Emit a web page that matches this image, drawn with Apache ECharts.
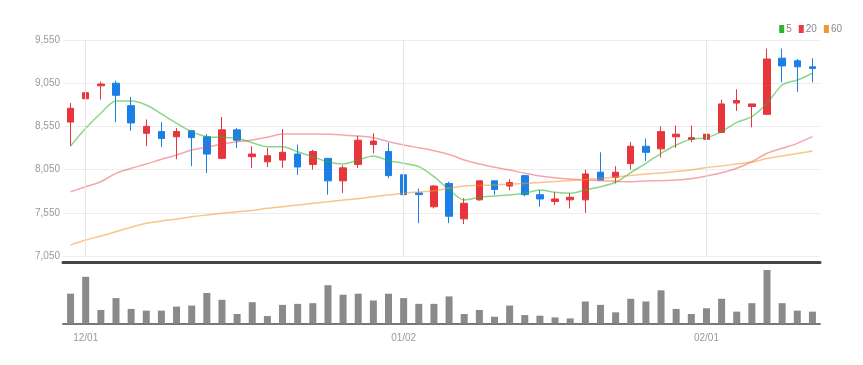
<!DOCTYPE html>
<html>
<head>
<meta charset="utf-8">
<style>
  html, body { margin: 0; padding: 0; background: #fff; }
  #chart { width: 863px; height: 365px; }
</style>
<script src="https://cdn.jsdelivr.net/npm/echarts@6/dist/echarts.min.js"></script>
</head>
<body>
<div id="chart"></div>
<script>
// 거래일 (2022-11-30 ~ 2023-02-10)
const dates = [
  '11/30', '12/01', '12/02', '12/05', '12/06', '12/07', '12/08', '12/09',
  '12/12', '12/13', '12/14', '12/15', '12/16', '12/19', '12/20', '12/21',
  '12/22', '12/23', '12/26', '12/27', '12/28', '12/29', '01/02', '01/03',
  '01/04', '01/05', '01/06', '01/09', '01/10', '01/11', '01/12', '01/13',
  '01/16', '01/17', '01/18', '01/19', '01/20', '01/25', '01/26', '01/27',
  '01/30', '01/31', '02/01', '02/02', '02/03', '02/06', '02/07', '02/08',
  '02/09', '02/10'
]
const shownDates = ['12/01', '01/02', '02/01']

// [open, close, low, high]
const candles = [
  [8600, 8760, 8320, 8820], [8870, 8940, 8730, 9110], [9020, 9040, 8860, 9070],
  [9050, 8910, 8600, 9080], [8790, 8590, 8500, 8890], [8470, 8550, 8320, 8630],
  [8490, 8410, 8310, 8600], [8430, 8490, 8170, 8530], [8500, 8420, 8090, 8500],
  [8430, 8230, 8010, 8460], [8180, 8510, 8170, 8660], [8510, 8390, 8300, 8530],
  [8200, 8230, 8070, 8320], [8140, 8210, 8080, 8300], [8160, 8250, 8070, 8520],
  [8230, 8080, 7990, 8340], [8110, 8260, 8050, 8280], [8180, 7920, 7760, 8180],
  [7920, 8070, 7780, 8100], [8110, 8390, 8070, 8440], [8340, 8380, 8240, 8470],
  [8260, 7980, 7950, 8360], [7990, 7760, 7590, 8050], [7780, 7760, 7430, 7830],
  [7620, 7860, 7600, 7870], [7890, 7510, 7430, 7910], [7480, 7660, 7420, 7720],
  [7700, 7920, 7690, 7920], [7920, 7820, 7760, 7920], [7860, 7900, 7810, 7940],
  [7980, 7760, 7740, 7990], [7760, 7710, 7620, 7810], [7680, 7710, 7640, 7790],
  [7700, 7730, 7600, 7780], [7700, 8000, 7550, 8050], [8020, 7930, 7930, 8250],
  [7960, 8020, 7890, 8090], [8120, 8320, 8050, 8370], [8320, 8250, 8150, 8410],
  [8290, 8490, 8190, 8550], [8430, 8460, 8300, 8560], [8400, 8420, 8370, 8560],
  [8400, 8460, 8350, 8670], [8480, 8810, 8480, 8860], [8820, 8850, 8730, 8980],
  [8780, 8810, 8540, 8810], [8690, 9330, 8680, 9450], [9340, 9250, 9060, 9450],
  [9310, 9240, 8950, 9330], [9240, 9220, 9060, 9340]
]

const ma5 = [
  8323, 8528, 8702, 8844, 8844, 8798, 8694, 8586, 8489, 8431,
  8424, 8412, 8361, 8315, 8315, 8257, 8199, 8141, 8115, 8161,
  8207, 8153, 8123, 8084, 7968, 7820, 7698, 7729, 7744, 7756,
  7776, 7814, 7787, 7776, 7814, 7852, 7903, 8016, 8123, 8239,
  8335, 8401, 8419, 8489, 8597, 8662, 8817, 9029, 9087, 9165
]
const ma20 = [
  7794, 7852, 7910, 8007, 8065, 8115, 8169, 8219, 8277, 8308,
  8346, 8373, 8393, 8424, 8462, 8462, 8462, 8458, 8450, 8439,
  8419, 8373, 8335, 8303, 8269, 8225, 8161, 8115, 8077, 8045,
  8007, 7976, 7956, 7941, 7930, 7922, 7915, 7910, 7918, 7922,
  7930, 7945, 7976, 8014, 8065, 8141, 8239, 8297, 8354, 8431
]
const ma60 = [
  7177, 7235, 7281, 7331, 7382, 7428, 7455, 7478, 7505, 7525,
  7544, 7563, 7577, 7602, 7621, 7640, 7660, 7678, 7698, 7713,
  7736, 7756, 7776, 7791, 7806, 7834, 7860, 7866, 7872, 7883,
  7889, 7901, 7912, 7924, 7935, 7947, 7964, 7982, 7999, 8011,
  8028, 8045, 8074, 8092, 8115, 8138, 8178, 8207, 8236, 8265
]

const volumes = [
  88000, 138000, 40000, 75000, 43000, 38000, 38000, 50000, 53000, 90000,
  70000, 28000, 63000, 22000, 55000, 58000, 60000, 113000, 85000, 88000,
  68000, 88000, 75000, 58000, 58000, 80000, 28000, 40000, 20000, 53000,
  25000, 23000, 18000, 15000, 65000, 55000, 33000, 73000, 65000, 98000,
  43000, 28000, 45000, 73000, 35000, 60000, 158000, 60000, 38000, 35000
]

const yTicks = { min: 7050, max: 9550, interval: 500 }

const UP = '#e8343b'
const DOWN = '#1c7fe6'
const FONT = '"Liberation Sans Narrow", "Liberation Sans", sans-serif'

const chart = echarts.init(document.getElementById('chart'))

function maSeries(name, data, color, opacity) {
  return {
    name,
    type: 'line',
    data,
    xAxisIndex: 0,
    yAxisIndex: 0,
    color,
    symbol: 'none',
    smooth: 0.3,
    lineStyle: { width: 1.5, color, opacity },
    z: 3
  }
}

chart.setOption({
  animation: false,
  backgroundColor: '#fff',
  textStyle: { fontFamily: FONT },
  legend: {
    right: 16,
    top: 19,
    icon: 'rect',
    itemWidth: 5,
    itemHeight: 8,
    itemGap: 7,
    textStyle: { fontSize: 10, color: '#888', padding: [0, 0, 0, -3] },
    data: ['5', '20', '60']
  },
  grid: [
    { left: 63, right: 43, top: 40, height: 216 },
    { left: 63, right: 43, top: 270, height: 53.5 }
  ],
  xAxis: [
    {
      type: 'category',
      data: dates,
      gridIndex: 0,
      offset: 6,
      axisLine: { lineStyle: { color: '#444', width: 3 } },
      axisTick: { show: false },
      axisLabel: { show: false },
      splitLine: { show: false }
    },
    {
      type: 'category',
      data: dates,
      gridIndex: 1,
      axisLine: { lineStyle: { color: '#777', width: 2 } },
      axisTick: {
        alignWithLabel: true,
        interval: (i, v) => shownDates.includes(v),
        length: 4,
        lineStyle: { color: '#777' }
      },
      axisLabel: {
        interval: (i, v) => shownDates.includes(v),
        fontSize: 10,
        color: '#999',
        margin: 10
      }
    }
  ],
  yAxis: [
    {
      type: 'value',
      gridIndex: 0,
      min: yTicks.min,
      max: yTicks.max,
      interval: yTicks.interval,
      axisLine: { show: false },
      axisTick: { show: false },
      axisLabel: {
        fontSize: 10,
        color: '#999',
        margin: 3,
        formatter: v => v.toLocaleString('en-US')
      },
      splitLine: { lineStyle: { color: '#ececec' } }
    },
    {
      type: 'value',
      gridIndex: 1,
      min: 0,
      max: 'dataMax',
      axisLine: { show: false },
      axisTick: { show: false },
      axisLabel: { show: false },
      splitLine: { show: false }
    }
  ],
  series: [
    {
      name: 'price',
      type: 'candlestick',
      data: candles,
      xAxisIndex: 0,
      yAxisIndex: 0,
      barWidth: 7,
      itemStyle: {
        color: UP,
        color0: DOWN,
        borderColor: UP,
        borderColor0: DOWN,
        borderWidth: 1
      },
      markLine: {
        silent: true,
        symbol: 'none',
        label: { show: false },
        lineStyle: { color: '#e6e6e6', width: 1, type: 'solid' },
        data: shownDates.map(d => ({ xAxis: d }))
      },
      z: 2
    },
    maSeries('5', ma5, '#2cb52c', 0.55),
    maSeries('20', ma20, '#ec3a44', 0.45),
    maSeries('60', ma60, '#f3962c', 0.55),
    {
      name: 'volume',
      type: 'bar',
      data: volumes,
      xAxisIndex: 1,
      yAxisIndex: 1,
      barWidth: 7,
      itemStyle: { color: '#8a8a8a' }
    }
  ]
})
</script>
</body>
</html>
